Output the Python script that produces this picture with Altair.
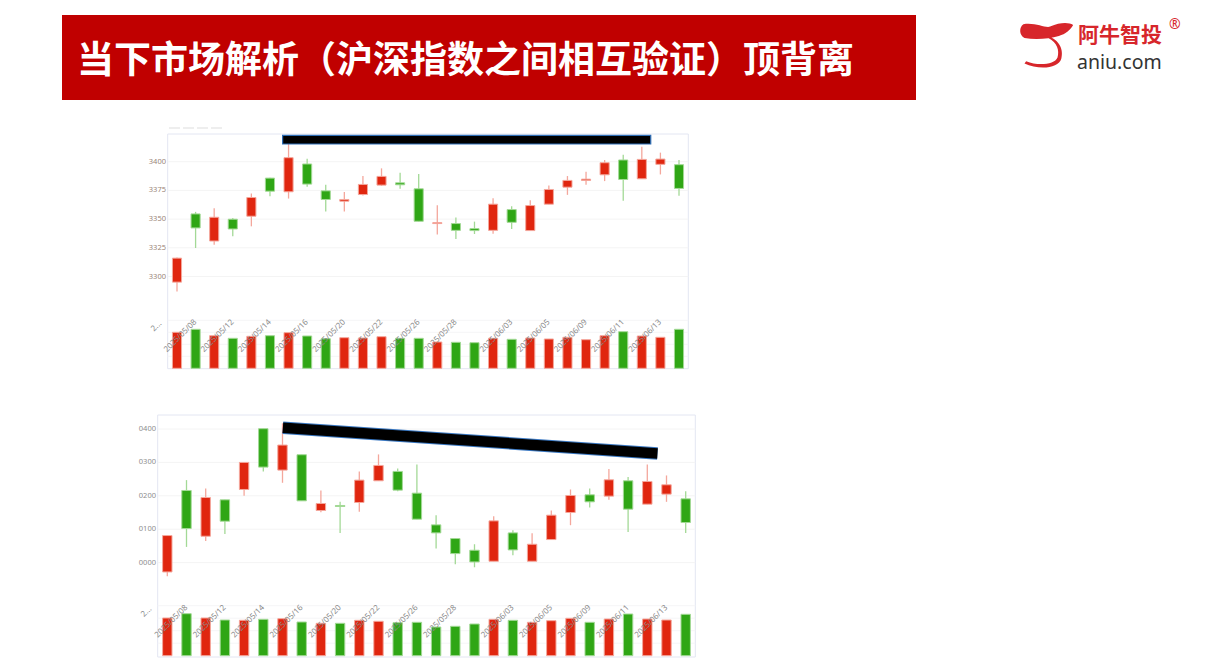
import altair as alt
import pandas as pd

# ---------------- data ----------------
dates = ["2025/05/07", "2025/05/08", "2025/05/09", "2025/05/12", "2025/05/13", "2025/05/14",
         "2025/05/15", "2025/05/16", "2025/05/19", "2025/05/20", "2025/05/21", "2025/05/22",
         "2025/05/23", "2025/05/26", "2025/05/27", "2025/05/28", "2025/05/29", "2025/05/30",
         "2025/06/03", "2025/06/04", "2025/06/05", "2025/06/06", "2025/06/09", "2025/06/10",
         "2025/06/11", "2025/06/12", "2025/06/13", "2025/06/16"]
shown_dates = ["2025/05/08", "2025/05/12", "2025/05/14", "2025/05/16", "2025/05/20", "2025/05/22",
               "2025/05/26", "2025/05/28", "2025/06/03", "2025/06/05", "2025/06/09", "2025/06/11",
               "2025/06/13"]

# Shanghai composite (top panel)
sh_open = [3295.1, 3354.5, 3330.9, 3349.9, 3352.5, 3385.7, 3373.8, 3398.0, 3374.6, 3365.6,
           3371.4, 3379.6, 3381.6, 3376.4, 3346.1, 3346.1, 3341.7, 3340.2, 3358.3, 3340.0,
           3363.0, 3377.8, 3383.7, 3388.6, 3401.5, 3385.1, 3397.7, 3397.4]
sh_close = [3316.0, 3342.3, 3351.6, 3341.4, 3368.8, 3374.3, 3403.5, 3380.5, 3367.1, 3367.1,
            3380.2, 3387.2, 3379.9, 3348.1, 3346.9, 3340.2, 3340.0, 3363.0, 3347.2, 3361.8,
            3375.8, 3383.7, 3384.8, 3399.1, 3384.5, 3402.0, 3402.3, 3376.7]
sh_high = [3316.5, 3356.3, 3359.5, 3351.0, 3372.3, 3386.0, 3416.0, 3402.6, 3379.9, 3373.5,
           3387.5, 3394.2, 3390.4, 3389.2, 3362.1, 3351.3, 3347.8, 3368.2, 3361.2, 3366.5,
           3379.3, 3387.5, 3391.3, 3401.5, 3406.1, 3413.1, 3407.9, 3401.5]
sh_low = [3286.9, 3324.8, 3327.7, 3335.0, 3343.7, 3370.0, 3367.9, 3378.1, 3356.6, 3356.6,
          3370.6, 3379.0, 3376.4, 3348.0, 3336.5, 3332.7, 3337.0, 3337.3, 3341.4, 3340.0,
          3363.0, 3371.1, 3379.9, 3383.1, 3365.9, 3385.1, 3388.9, 3370.3]
sh_vol = [4500, 4875, 4075, 3750, 4000, 4075, 4450, 4038, 3700, 3825, 3788, 3950, 3750, 3750,
          3288, 3250, 3200, 3750, 3625, 3788, 3663, 3875, 3575, 4075, 4575, 4038, 3875, 4875]

# Shenzhen component (bottom panel)
sz_open = [9972, 10216, 10079, 10188, 10219, 10401, 10277, 10323, 10156, 10171, 10180, 10245,
           10273, 10208, 10113, 10072, 10037, 10004, 10089, 10004, 10069, 10150, 10203, 10199,
           10245, 10175, 10205, 10191]
sz_close = [10081, 10102, 10195, 10124, 10300, 10286, 10352, 10185, 10177, 10168, 10247, 10291,
            10217, 10130, 10089, 10027, 10002, 10125, 10038, 10055, 10142, 10201, 10182, 10248,
            10160, 10243, 10233, 10120]
sz_high = [10081, 10247, 10222, 10188, 10300, 10401, 10417, 10323, 10216, 10182, 10273, 10324,
           10282, 10294, 10142, 10074, 10055, 10139, 10097, 10088, 10156, 10219, 10222, 10280,
           10256, 10294, 10261, 10214]
sz_low = [9959, 10047, 10065, 10086, 10200, 10273, 10239, 10185, 10151, 10089, 10152, 10245,
          10214, 10130, 10042, 9995, 9986, 10004, 10022, 10004, 10069, 10112, 10165, 10188,
          10092, 10175, 10182, 10089]
sz_vol = [6032, 6720, 6032, 5712, 5664, 5824, 5920, 5392, 5184, 5184, 5664, 5504, 5280, 5344,
          4592, 4704, 5072, 5824, 5664, 5344, 5600, 5984, 5344, 5872, 6672, 5872, 5712, 6624]

sh_ticks = [3300, 3325, 3350, 3375, 3400]
sz_ticks = [10000, 10100, 10200, 10300, 10400]
sh_vol_grid = [1500, 3000, 4500, 6000]
sz_vol_grid = [2000, 4000, 6000, 8000]

# divergence marks (index position, price)
sh_mark_x = [6.68, 26.48]
sh_mark_y = [3423.0, 3415.4]
sz_mark_x = [7.02, 26.53]
sz_mark_y = [10403.6, 10327.0]

title_text = "当下市场解析（沪深指数之间相互验证）顶背离"

# ---------------- style ----------------
RED = "#E0260F"
GREEN = "#2FA615"
RED_L = "#F4A79C"
GREEN_L = "#A3D996"
FRAME = "#E3E6F2"
GRID = "#F4F4F4"
LAB = "#8A8A8A"
NUM_FONT = "Noto Sans"
CJK = "Noto Sans CJK SC"

W, H = 1191, 655


def make_df(o, c, h, l, v):
    return pd.DataFrame({"i": list(range(1, len(dates) + 1)), "date": dates,
                         "open": o, "close": c, "high": h, "low": l, "vol": v})


UP = "datum.close >= datum.open"


def panel(df, cfg, ticks, tick_labels, vgrid):
    xs = alt.Scale(domain=[0.5, 28.5], range=cfg["x_range"], nice=False, zero=False)
    ys = alt.Scale(domain=cfg["y_dom"], range=cfg["y_range"], nice=False, zero=False)
    vs = alt.Scale(domain=cfg["v_dom"], range=cfg["v_range"], nice=False, zero=False)
    x0, x1 = cfg["x_range"]
    fx0, fx1, fy0, fy1 = cfg["frame"]
    layers = []
    one = pd.DataFrame({"a": [0]})
    # frame
    layers.append(alt.Chart(one).mark_rect(fillOpacity=0, stroke=FRAME, strokeWidth=1).encode(
        x=alt.value(fx0), x2=alt.value(fx1), y=alt.value(fy0), y2=alt.value(fy1)))
    # price grid
    gdf = pd.DataFrame({"p": ticks, "lab": tick_labels})
    layers.append(alt.Chart(gdf).mark_rule(color=GRID, strokeWidth=1).encode(
        y=alt.Y("p:Q", scale=ys, axis=None), x=alt.value(x0), x2=alt.value(x1)))
    layers.append(alt.Chart(gdf).mark_text(
        align="right", baseline="middle", fontSize=7.5, color=cfg["ycolor"], font=NUM_FONT).encode(
        y=alt.Y("p:Q", scale=ys, axis=None), x=alt.value(cfg["label_x"]), text="lab:N"))
    # volume grid
    layers.append(alt.Chart(pd.DataFrame({"v": vgrid})).mark_rule(color="#F5F5F7", strokeWidth=1).encode(
        y=alt.Y("v:Q", scale=vs, axis=None), x=alt.value(x0), x2=alt.value(x1)))
    base = alt.Chart(df)
    # wicks
    layers.append(base.mark_rule(strokeWidth=1.3).encode(
        x=alt.X("i:Q", scale=xs, axis=None),
        y=alt.Y("low:Q", scale=ys, axis=None), y2="high:Q",
        color=alt.condition(UP, alt.value(RED_L), alt.value(GREEN_L))))
    # bodies
    layers.append(base.transform_calculate(xa="datum.i - 0.245", xb="datum.i + 0.245").mark_rect(
        strokeWidth=1).encode(
        x=alt.X("xa:Q", scale=xs, axis=None), x2="xb:Q",
        y=alt.Y("open:Q", scale=ys, axis=None), y2="close:Q",
        color=alt.condition(UP, alt.value(RED), alt.value(GREEN)),
        stroke=alt.condition(UP, alt.value(RED_L), alt.value(GREEN_L))))
    # volume bars
    layers.append(base.transform_calculate(xa="datum.i - 0.245", xb="datum.i + 0.245", z="0").mark_rect(
        strokeWidth=1).encode(
        x=alt.X("xa:Q", scale=xs, axis=None), x2="xb:Q",
        y=alt.Y("vol:Q", scale=vs, axis=None), y2="z:Q",
        color=alt.condition(UP, alt.value(RED), alt.value(GREEN)),
        stroke=alt.condition(UP, alt.value(RED_L), alt.value(GREEN_L))))
    # date labels
    layers.append(alt.Chart(df[df["date"].isin(shown_dates)]).mark_text(
        angle=315, align="right", baseline="middle", fontSize=8, color=LAB, font=NUM_FONT).encode(
        x=alt.X("i:Q", scale=xs, axis=None), y=alt.value(cfg["date_y"]), text="date:N"))
    # truncated volume axis label
    layers.append(alt.Chart(pd.DataFrame({"t": ["2..."]})).mark_text(
        angle=315, align="right", baseline="middle", fontSize=8, color=LAB, font=NUM_FONT).encode(
        x=alt.value(cfg["vlabel"][0]), y=alt.value(cfg["vlabel"][1]), text="t:N"))
    return layers, xs, ys


top_cfg = dict(x_range=[159.7, 680.3], y_dom=[3275, 3425], y_range=[297.2, 125.0],
               v_dom=[0, 6000], v_range=[360.3, 312.3], frame=(159.7, 680.3, 126.0, 360.7),
               label_x=158, date_y=313, vlabel=(152.5, 314.5), ycolor="#9A8578")
bot_cfg = dict(x_range=[149.7, 687.3], y_dom=[9950, 10442], y_range=[571.3, 407.0],
               v_dom=[0, 8000], v_range=[647.7, 597.7], frame=(149.7, 687.3, 407.0, 649.0),
               label_x=148, date_y=598.5, vlabel=(142.5, 600), ycolor="#8E8E8E")

sh_df = make_df(sh_open, sh_close, sh_high, sh_low, sh_vol)
sz_df = make_df(sz_open, sz_close, sz_high, sz_low, sz_vol)

top_layers, txs, tys = panel(sh_df, top_cfg, sh_ticks, [str(t) for t in sh_ticks], sh_vol_grid)
bot_layers, bxs, bys = panel(sz_df, bot_cfg, sz_ticks, [str(t)[1:] for t in sz_ticks], sz_vol_grid)

# divergence annotations
top_mark = alt.Chart(pd.DataFrame({"x1": [sh_mark_x[0]], "x2": [sh_mark_x[1]],
                                   "y1": [sh_mark_y[0]], "y2": [sh_mark_y[1]]})).mark_rect(
    color="black", stroke="#2F6EB5", strokeWidth=1.2).encode(
    x=alt.X("x1:Q", scale=txs, axis=None), x2="x2:Q",
    y=alt.Y("y1:Q", scale=tys, axis=None), y2="y2:Q")

bline_df = pd.DataFrame({"x": sz_mark_x, "y": sz_mark_y})
bot_mark_outline = alt.Chart(bline_df).mark_line(color="#3A78C2", strokeWidth=12.5, strokeCap="butt").encode(
    x=alt.X("x:Q", scale=bxs, axis=None), y=alt.Y("y:Q", scale=bys, axis=None))
bot_mark = alt.Chart(bline_df).mark_line(color="black", strokeWidth=10.5, strokeCap="butt").encode(
    x=alt.X("x:Q", scale=bxs, axis=None), y=alt.Y("y:Q", scale=bys, axis=None))

# ---------------- slide header ----------------
one = pd.DataFrame({"a": [0]})
banner = alt.Chart(one).mark_rect(color="#C00000").encode(
    x=alt.value(54), x2=alt.value(908), y=alt.value(7), y2=alt.value(92))
title = alt.Chart(pd.DataFrame({"t": [title_text]})).mark_text(
    align="left", baseline="middle", fontSize=37, fontWeight="bold", color="white", font=CJK).encode(
    x=alt.value(69), y=alt.value(54), text="t:N")

logo_path = ("M-0.84,-0.85 C-0.4,-0.92 -0.05,-0.7 0.13,-0.76 C0.5,-0.92 0.8,-0.92 0.97,-0.82 "
             "C0.85,-0.62 0.7,-0.5 0.45,-0.42 C0.1,-0.32 -0.4,-0.27 -0.8,-0.35 "
             "C-1,-0.45 -1,-0.75 -0.84,-0.85 Z "
             "M0.0,-0.42 C0.5,-0.3 0.62,0.1 0.54,0.4 C0.44,0.78 -0.3,0.82 -0.8,0.58 "
             "L-0.74,0.5 C-0.3,0.68 0.3,0.62 0.4,0.36 C0.48,0.1 0.38,-0.2 0.08,-0.34 Z")
logo_mark = alt.Chart(one).mark_point(shape=logo_path, filled=True, size=3025, color="#D7262B",
                                      opacity=1, strokeWidth=0).encode(
    x=alt.value(1038.5), y=alt.value(39.5))
logo_cn = alt.Chart(pd.DataFrame({"t": ["阿牛智投"]})).mark_text(
    align="left", baseline="middle", fontSize=21, fontWeight="bold", color="#D7262B", font=CJK).encode(
    x=alt.value(1070), y=alt.value(28), text="t:N")
logo_r = alt.Chart(pd.DataFrame({"t": ["®"]})).mark_text(
    align="left", baseline="middle", fontSize=14, color="#D7262B", font=NUM_FONT).encode(
    x=alt.value(1161), y=alt.value(17), text="t:N")
logo_en = alt.Chart(pd.DataFrame({"t": ["aniu.com"]})).mark_text(
    align="left", baseline="alphabetic", fontSize=19.5, color="#333333", font=NUM_FONT).encode(
    x=alt.value(1069), y=alt.value(61), text="t:N")
faint = alt.Chart(one).mark_rule(color="#EEEEEE", strokeWidth=2, strokeDash=[11, 3]).encode(
    x=alt.value(161), x2=alt.value(215), y=alt.value(120))

layers = ([banner, title, logo_mark, logo_cn, logo_r, logo_en, faint]
          + top_layers + [top_mark]
          + bot_layers + [bot_mark_outline, bot_mark])

chart = alt.layer(*layers).resolve_scale(
    x="independent", y="independent"
).properties(
    width=W, height=H, autosize=alt.AutoSizeParams(type="none"), padding=0, background="white"
).configure_view(strokeWidth=0)

chart.save("out.html", embed_options={"renderer": "svg", "actions": False})
